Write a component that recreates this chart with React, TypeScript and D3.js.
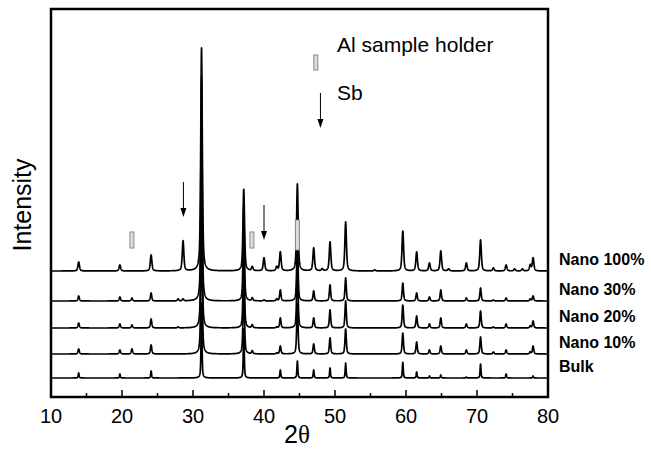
import React from "react";
import * as d3 from "d3";

const W = 651;
const H = 449;

// axis ticks
const xMajorTicks = [10, 20, 30, 40, 50, 60, 70, 80];
const xMinorTicks = [15, 25, 35, 45, 55, 65, 75];

// series (bottom to top)
const seriesNames = ["Bulk", "Nano 10%", "Nano 20%", "Nano 30%", "Nano 100%"];
const seriesOffsets = [19, 43, 69, 96, 126];
const peakWidths = [0.15, 0.22, 0.22, 0.22, 0.26];

// peak positions (2θ)
const peakPositions = [13.9, 19.7, 21.4, 24.1, 27.9, 28.6, 31.2, 37.15, 38.35, 40.0, 41.8, 42.3, 44.7, 47.0, 48.2, 49.3, 51.5, 55.6, 59.55, 61.5, 63.3, 64.9, 66.0, 68.5, 70.5, 72.3, 74.1, 75.3, 76.4, 77.5, 77.9];

// peak heights per series (arbitrary units)
const bulkHeights = [5, 4, 0, 7, 0, 0, 75, 50, 0, 0, 0, 8, 17, 8, 0, 10, 15, 0, 16, 6, 2, 3, 0, 1, 14, 0, 4, 0, 0, 0, 2];
const nano10Heights = [5, 4, 5, 9, 0, 0, 150, 80, 3, 0, 1, 8, 50, 10, 0, 16, 25, 0, 21, 12, 4, 8, 0, 4, 17, 2, 4, 0, 0, 2, 8];
const nano20Heights = [5, 4, 3, 9, 1, 0, 180, 85, 3, 0, 1, 10, 70, 10, 0, 18, 27, 0, 23, 12, 4, 10, 0, 4, 17, 1, 4, 0, 0, 2, 7];
const nano30Heights = [5, 4, 3, 8, 2, 2, 224, 95, 3, 1, 2, 11, 65, 10, 0, 16, 23, 0, 18, 8, 4, 11, 0, 3, 13, 1, 3, 0, 0, 2, 5];
const nano100Heights = [9, 6, 0, 16, 0, 30, 223, 82, 4, 13, 4, 19, 87, 23, 2, 29, 49, 1, 40, 19, 8, 20, 2, 8, 31, 3, 6, 2, 2, 6, 13];
const seriesHeights = [bulkHeights, nano10Heights, nano20Heights, nano30Heights, nano100Heights];

// annotations
const alMarkers = [
  { x: 21.4, y0: 149, y1: 165 },
  { x: 38.3, y0: 149, y1: 165 },
  { x: 44.7, y0: 147, y1: 177 },
];
const sbArrows = [
  { x: 28.65, y0: 215, y1: 180 },
  { x: 40.0, y0: 192, y1: 157 },
];

const x = d3.scaleLinear().domain([10, 80]).range([51, 548]);
const y = d3.scaleLinear().domain([0, 388]).range([397, 9]);

function profile(t: number, heights: number[], w: number) {
  let s = 0;
  const hw = w / 2;
  for (let i = 0; i < peakPositions.length; i++) {
    const h = heights[i];
    if (!h) continue;
    const d = t - peakPositions[i];
    const L = 1 / (1 + (d / hw) * (d / hw));
    const G = Math.exp(-Math.LN2 * (d / hw) * (d / hw));
    s += h * (0.55 * L + 0.45 * G);
  }
  return s;
}

const grid = d3.range(10, 80.0001, 0.02);

const font = "'Liberation Sans', Arial, Helvetica, sans-serif";

function Arrow({ px, py0, py1 }: { px: number; py0: number; py1: number }) {
  return (
    <g>
      <line x1={px} x2={px} y1={py0} y2={py1 - 8} stroke="#000" strokeWidth={1} />
      <path d={`M${px - 3},${py1 - 9} L${px + 3},${py1 - 9} L${px},${py1} Z`} fill="#000" />
    </g>
  );
}

export default function App() {
  return (
    <svg width={W} height={H} style={{ position: "absolute", left: 0, top: 0, background: "#fff" }} fontFamily={font}>
      <rect x={0} y={0} width={W} height={H} fill="#fff" />
      {seriesHeights.map((hs, si) => {
        const gen = d3
          .line<number>()
          .x((t) => x(t))
          .y((t) => y(seriesOffsets[si] + profile(t, hs, peakWidths[si])));
        return <path key={si} d={gen(grid) || ""} fill="none" stroke="#000" strokeWidth={1.7} strokeLinejoin="round" />;
      })}
      {/* Al markers */}
      {alMarkers.map((m, i) => (
        <rect key={i} x={x(m.x) - 2} y={y(m.y1)} width={4} height={y(m.y0) - y(m.y1)} fill="#ddd" stroke="#888" strokeWidth={1} />
      ))}
      {sbArrows.map((a, i) => (
        <Arrow key={i} px={x(a.x)} py0={y(a.y0)} py1={y(a.y1)} />
      ))}
      {/* legend */}
      <rect x={x(47.3) - 2} y={55} width={4} height={15} fill="#ddd" stroke="#888" strokeWidth={1} />
      <Arrow px={x(47.95)} py0={93} py1={128} />
      <text x={337} y={52} fontSize={21}>Al sample holder</text>
      <text x={337} y={100} fontSize={21}>Sb</text>
      {/* series labels */}
      {seriesNames.map((n, i) => (
        <text key={n} x={559} y={y(seriesOffsets[i] + 6)} fontSize={16} fontWeight="bold">{n}</text>
      ))}
      {/* frame */}
      <rect x={51} y={9} width={497} height={388} fill="none" stroke="#000" strokeWidth={2.5} />
      {xMajorTicks.map((t) => (
        <g key={t}>
          <line x1={x(t)} x2={x(t)} y1={397} y2={390} stroke="#000" strokeWidth={1.5} />
          <text x={x(t)} y={423} fontSize={20} textAnchor="middle">{t}</text>
        </g>
      ))}
      {xMinorTicks.map((t) => (
        <line key={t} x1={x(t)} x2={x(t)} y1={397} y2={393} stroke="#000" strokeWidth={1.5} />
      ))}
      <text x={297} y={443} fontSize={25} textAnchor="middle">
        2<tspan fontFamily="'Liberation Serif', 'Times New Roman', serif">θ</tspan>
      </text>
      <text transform="translate(31,205) rotate(-90)" fontSize={25} textAnchor="middle">Intensity</text>
    </svg>
  );
}
